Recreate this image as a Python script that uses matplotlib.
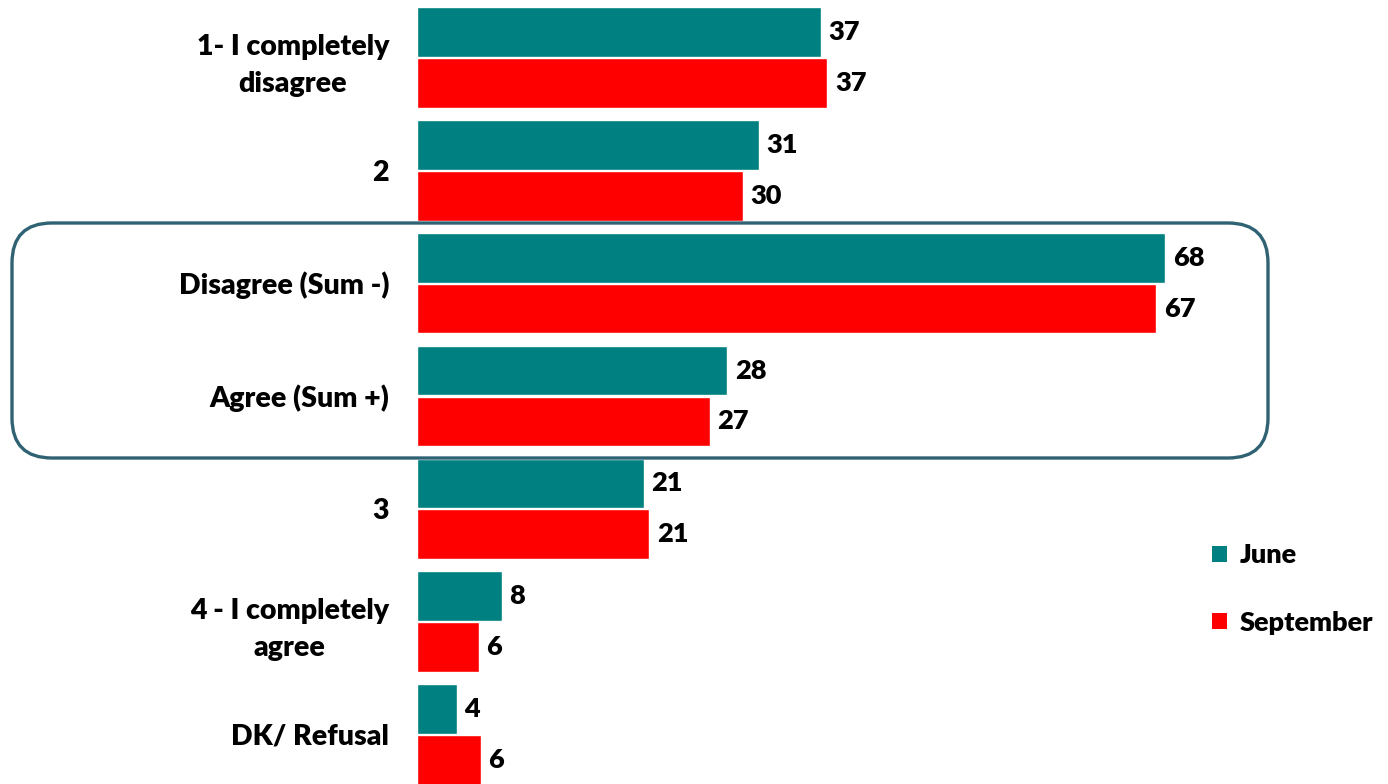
import numpy as np
import matplotlib.pyplot as plt
from matplotlib.patches import FancyBboxPatch, Patch

categories = ['1- I completely\ndisagree', '2', 'Disagree (Sum -)', 'Agree (Sum +)',
              '3', '4 - I completely\nagree', 'DK/ Refusal']
june = [36.7, 31.1, 68.0, 28.2, 20.6, 7.7, 3.6]
september = [37.3, 29.6, 67.2, 26.6, 21.1, 5.6, 5.8]
series_names = ['June', 'September']

c_june = '#008080'
c_sept = '#FF0000'
font = 'Lato'
wt = 'heavy'

fig = plt.figure(figsize=(13.88, 7.84), dpi=100)
ax = fig.add_axes([417 / 1388, 0, 880 / 1388, 1])

y = np.arange(len(categories))
h = 0.44
off = 0.225
ax.barh(y - off, june, height=h, color=c_june, edgecolor='white', linewidth=1)
ax.barh(y + off, september, height=h, color=c_sept, edgecolor='white', linewidth=1)

# value labels
for i in range(len(categories)):
    ax.text(june[i] + 0.7, y[i] - off, f'{june[i]:.0f}', va='center', ha='left',
            fontsize=19.5, fontweight=wt, family=font)
    ax.text(september[i] + 0.7, y[i] + off, f'{september[i]:.0f}', va='center', ha='left',
            fontsize=19.5, fontweight=wt, family=font)

ax.set_xlim(0, 80)
ax.set_ylim(6.44, -0.51)
ax.set_yticks(y)
ax.set_yticklabels(categories, fontsize=20.5, fontweight=wt, family=font,
                   multialignment='center', linespacing=1.5)
ax.tick_params(axis='y', length=0, pad=20)
ax.set_xticks([])
for s in ax.spines.values():
    s.set_visible(False)

# rounded box around the summary rows (inches)
box = FancyBboxPatch((0.12, 3.26), 12.56, 2.35, boxstyle='round,pad=0,rounding_size=0.4',
                     transform=fig.dpi_scale_trans, facecolor='none',
                     edgecolor='#2F6273', linewidth=2.4, zorder=5)
fig.patches.append(box)

handles = [Patch(facecolor=c_june), Patch(facecolor=c_sept)]
fig.legend(handles, series_names, loc='upper left', bbox_to_anchor=(1188 / 1388, 1 - 519 / 784),
           frameon=False, handlelength=0.55, handleheight=0.55, handletextpad=0.45,
           labelspacing=1.6, prop={'family': font, 'weight': wt, 'size': 19.5})

fig.savefig('out.png', dpi=100)
